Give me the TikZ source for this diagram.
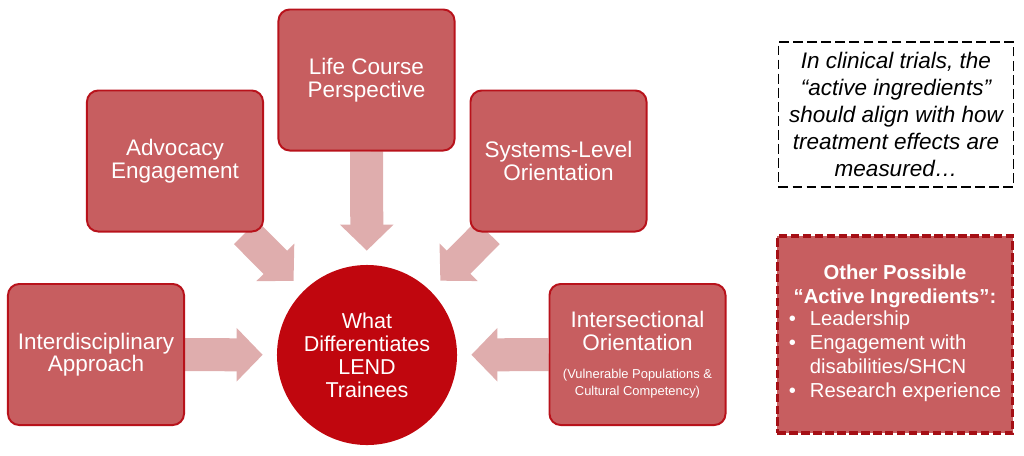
\documentclass[tikz,border=0pt]{standalone}
\usepackage{fontspec}
\setmainfont{Liberation Sans}
\usetikzlibrary{arrows.meta,backgrounds}
\definecolor{BoxRed}{HTML}{C75E60}
\definecolor{BoxEdge}{HTML}{B8121B}
\definecolor{CoreRed}{HTML}{C0060E}
\definecolor{ArrowPink}{HTML}{DFADAD}
\definecolor{DashRed}{HTML}{A50F15}

\tikzset{
  factor/.style={draw=BoxEdge,line width=1.4pt,fill=BoxRed,rounded corners=8pt,
    minimum width=4.4cm,minimum height=3.525cm,inner sep=2pt,
    text=white,align=center,font=\fontsize{16}{16}\selectfont},
  core/.style={circle,fill=CoreRed,minimum size=4.5cm,inner sep=0pt,
    text=white,align=center,font=\fontsize{15.3}{16.4}\selectfont},
  fatarrow/.style={draw=ArrowPink,line width=0.825cm,
    -{Triangle[length=0.65cm,width=1.3cm]},shorten >=10pt},
  notebox/.style={draw=black,line width=1.1pt,dash pattern=on 7pt off 3pt,fill=white,
    minimum width=5.875cm,minimum height=3.625cm,align=center,
    font=\itshape\fontsize{16}{19.2}\selectfont},
  otherbox/.style={draw=DashRed,line width=2.2pt,dash pattern=on 6pt off 2.5pt,fill=BoxRed,
    minimum width=5.875cm,minimum height=4.925cm,align=center,text=white,
    font=\fontsize{14.4}{17}\selectfont}
}

\begin{document}
\begin{tikzpicture}[x=0.025cm,y=-0.025cm]
  \useasboundingbox (0,0) rectangle (1024,455);

  % five factors round the core
  \node[core] (cen) at (367,355) {What\\Differentiates\\LEND\\Trainees};
  \node[factor] (inter) at (96,354.5) {Interdisciplinary\\Approach};
  \node[factor] (adv) at (175,161) {Advocacy\\Engagement};
  \node[factor] (life) at (366.5,80) {Life Course\\Perspective};
  \node[factor] (sys) at (558.5,161) {Systems-Level\\Orientation};
  \node[factor,text width=4.2cm,align=flush center] (isect) at (637.5,354.5) {Intersectional\\Orientation\par
    \vspace{8pt}{\fontsize{9.2}{12}\selectfont (Vulnerable Populations \&\\Cultural Competency)\par}};

  \begin{scope}[on background layer]
    \foreach \n in {inter,adv,life,sys,isect}
      \draw[fatarrow] (\n) -- (cen);
  \end{scope}

  % side notes
  \node[notebox] (note) at (896,114.5) {In clinical trials, the\\“active ingredients”\\should align with how\\treatment effects are\\measured…};
  \node[otherbox] (other) at (895,334.5) {\textbf{Other Possible}\\\textbf{“Active Ingredients”:}\\
    \begin{tabular}{@{}l@{\hspace{10pt}}l@{}}
      •&Leadership\\
      •&Engagement with\\
       &disabilities/SHCN\\
      •&Research experience
    \end{tabular}};
\end{tikzpicture}
\end{document}
